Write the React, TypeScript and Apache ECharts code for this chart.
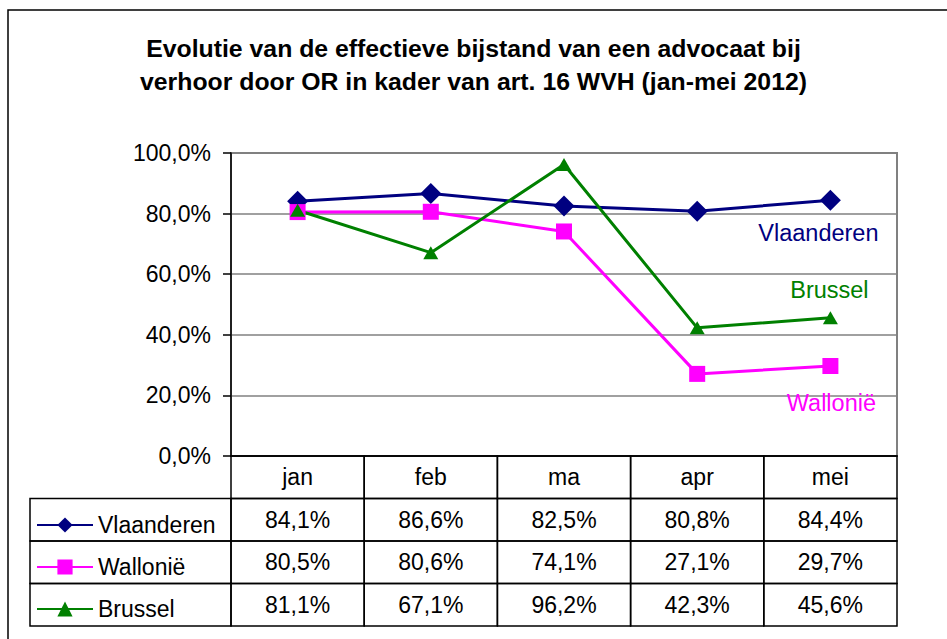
import React, { useEffect, useRef } from 'react';
import * as echarts from 'echarts';

const categories = ['jan', 'feb', 'ma', 'apr', 'mei'];
const vlaanderen = [84.1, 86.6, 82.5, 80.8, 84.4];
const wallonie = [80.5, 80.6, 74.1, 27.1, 29.7];
const brussel = [81.1, 67.1, 96.2, 42.3, 45.6];
const seriesNames = ['Vlaanderen', 'Wallonië', 'Brussel'];
const seriesColors = ['#000080', '#FF00FF', '#008000'];
const yMin = 0;
const yMax = 100;
const yStep = 20;
const titleText = 'Evolutie van de effectieve bijstand van een advocaat bij\nverhoor door OR in kader van art. 16 WVH (jan-mei 2012)';

const fmt = (v: number) => v.toFixed(1).replace('.', ',') + '%';

const FONT = '"Liberation Sans", Arial, sans-serif';

export default function App() {
  const ref = useRef<HTMLDivElement>(null);
  useEffect(() => {
    if (!ref.current) return;
    const chart = echarts.init(ref.current, null, { renderer: 'svg' });
    const allValues = [vlaanderen, wallonie, brussel];
    const rows = ['', ...seriesNames];
    const cells: { ci: number; ri: number; text: string }[] = [];
    categories.forEach((c, ci) => cells.push({ ci, ri: 0, text: c }));
    allValues.forEach((vals, si) =>
      vals.forEach((v, ci) => cells.push({ ci, ri: si + 1, text: fmt(v) }))
    );
    const legendColW = 201;

    const mkSeries = (name: string, data: number[], color: string, symbol: string, symbolSize: any, labelOffset: number[]) => ({
      name,
      type: 'line',
      xAxisIndex: 0,
      yAxisIndex: 0,
      data: data.map((v, i) =>
        i === data.length - 1
          ? {
              value: v,
              label: {
                show: true,
                formatter: name,
                position: 'inside',
                offset: labelOffset,
                color,
                fontSize: 23.5,
                fontFamily: FONT,
              },
            }
          : v
      ),
      symbol,
      symbolSize,
      showAllSymbol: true,
      lineStyle: { color, width: 3 },
      itemStyle: { color },
      z: 3,
    });

    chart.setOption({
      animation: false,
      backgroundColor: '#fff',
      title: {
        text: titleText,
        left: 'center',
        top: 27,
        textStyle: {
          fontFamily: FONT,
          fontSize: 24.8,
          fontWeight: 'bold',
          color: '#000',
          lineHeight: 33,
        },
      },
      legend: {
        orient: 'vertical',
        left: 31,
        top: 508,
        data: seriesNames,
        itemWidth: 56,
        itemHeight: 19,
        itemGap: 18,
        textStyle: { fontFamily: FONT, fontSize: 23, color: '#000', lineHeight: 24 },
        selectedMode: false,
      },
      grid: [
        {
          left: 231,
          top: 153,
          width: 666,
          height: 303,
          show: true,
          borderColor: '#808080',
          borderWidth: 2,
          backgroundColor: 'transparent',
        },
        { left: 231, top: 456, width: 666, height: 170 },
      ],
      xAxis: [
        {
          type: 'category',
          gridIndex: 0,
          data: categories,
          boundaryGap: true,
          axisLine: { show: true, lineStyle: { color: '#000', width: 1.5 } },
          axisTick: { show: false },
          axisLabel: { show: false },
        },
        {
          type: 'category',
          gridIndex: 1,
          data: categories,
          show: false,
        },
      ],
      yAxis: [
        {
          type: 'value',
          gridIndex: 0,
          min: yMin,
          max: yMax,
          interval: yStep,
          axisLine: { show: true, lineStyle: { color: '#000', width: 1.5 } },
          axisTick: { show: true, length: 8, lineStyle: { color: '#000', width: 1.5 } },
          axisLabel: {
            formatter: (v: number) => fmt(v),
            fontFamily: FONT,
            fontSize: 23,
            color: '#000',
            margin: 20,
          },
          splitLine: { show: true, lineStyle: { color: '#808080', width: 1.5 } },
        },
        {
          type: 'category',
          gridIndex: 1,
          data: rows,
          inverse: true,
          show: false,
        },
      ],
      graphic: [
        {
          type: 'polyline',
          shape: { points: [[8, 639], [8, 10], [947, 10]] },
          style: { stroke: '#000', lineWidth: 1.5, fill: 'none' },
          silent: true,
        },
      ],
      series: [
        mkSeries(seriesNames[0], vlaanderen, seriesColors[0], 'diamond', [21, 21], [-12, 33]),
        mkSeries(seriesNames[1], wallonie, seriesColors[1], 'rect', [16, 16], [1, 37]),
        mkSeries(seriesNames[2], brussel, seriesColors[2], 'triangle', [15, 13], [-1, -28]),
        {
          type: 'custom',
          name: 'table',
          xAxisIndex: 1,
          yAxisIndex: 1,
          data: cells.map((c) => [c.ci, c.ri]),
          silent: true,
          z: 1,
          renderItem: (params: any, api: any) => {
            const cell = cells[params.dataIndex];
            const p = api.coord([api.value(0), api.value(1)]);
            const s = api.size([1, 1]);
            const w = s[0];
            const h = s[1];
            const x = p[0] - w / 2;
            const y = p[1] - h / 2;
            const children: any[] = [
              {
                type: 'rect',
                shape: { x, y, width: w, height: h },
                style: { fill: 'none', stroke: '#000', lineWidth: 1.5 },
              },
              {
                type: 'text',
                style: {
                  x: p[0],
                  y: p[1],
                  text: cell.text,
                  align: 'center',
                  verticalAlign: 'middle',
                  fontFamily: FONT,
                  fontSize: 23,
                  fill: '#000',
                },
              },
            ];
            if (cell.ci === 0 && cell.ri > 0) {
              children.push({
                type: 'rect',
                shape: { x: x - legendColW, y, width: legendColW, height: h },
                style: { fill: 'none', stroke: '#000', lineWidth: 1.5 },
              });
            }
            return { type: 'group', children };
          },
        },
      ],
    });
    return () => chart.dispose();
  }, []);
  return (
    <div
      ref={ref}
      style={{ position: 'absolute', left: 0, top: 0, width: 947, height: 639 }}
    />
  );
}
